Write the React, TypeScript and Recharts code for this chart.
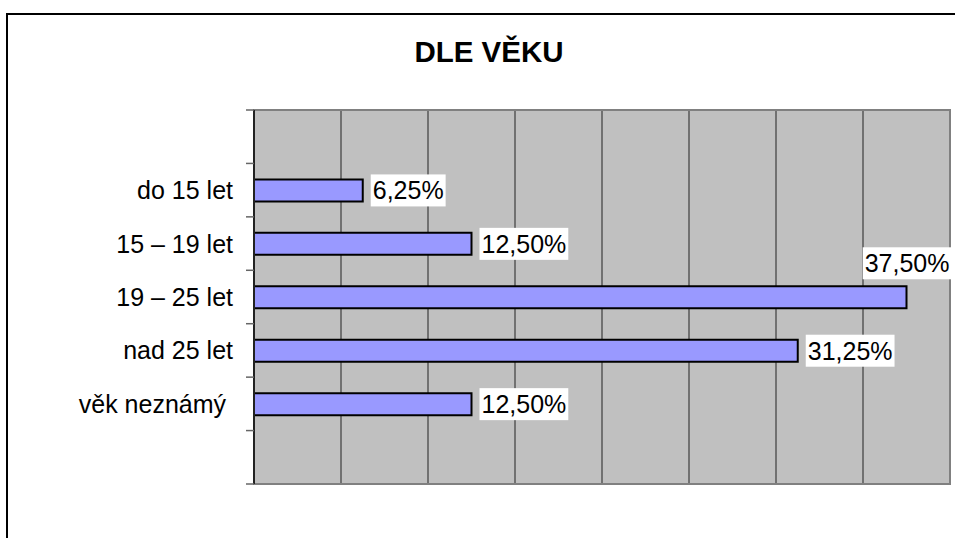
import { Bar, BarChart, CartesianGrid, LabelList, ReferenceArea, XAxis, YAxis } from 'recharts';

// rows top -> bottom; the empty rows at both ends are padding slots in the original
const categories = ['', 'do 15 let', '15 – 19 let', '19 – 25 let', 'nad 25 let', 'věk neznámý ', ''];
const shares: (number | null)[] = [null, 6.25, 12.5, 37.5, 31.25, 12.5, null];
const xTicks = [0, 5, 10, 15, 20, 25, 30, 35, 40];
const title = 'DLE VĚKU';

const data = categories.map((name, i) => ({ name, value: shares[i] }));

const FONT = '"Liberation Sans", Arial, Helvetica, sans-serif';
const FS = 25;
const W = 955;
const H = 538;
const margin = { top: 110, right: 5, bottom: 54, left: 0 };
const AXIS_W = 254;
const PLOT_H = H - margin.top - margin.bottom;
const PLOT_RIGHT = W - margin.right;
const BAND = PLOT_H / categories.length;

const fmt = (v: number) => v.toFixed(2).replace('.', ',') + '%';

let ctx: CanvasRenderingContext2D | null = null;
function textWidth(s: string, size: number) {
  if (!ctx) ctx = document.createElement('canvas').getContext('2d');
  if (!ctx) return s.length * size * 0.55;
  ctx.font = `${size}px ${FONT}`;
  return ctx.measureText(s).width;
}

function CategoryTick(props: any) {
  const { x, y, payload, index } = props;
  const axisX = x + 21;
  const last = index === categories.length - 1;
  return (
    <g>
      <line x1={axisX - 8} x2={axisX} y1={y - BAND / 2} y2={y - BAND / 2} stroke="#666" strokeWidth={1.5} />
      {last && <line x1={axisX - 8} x2={axisX} y1={y + BAND / 2} y2={y + BAND / 2} stroke="#666" strokeWidth={1.5} />}
      <text x={x} y={y} dy="0.36em" textAnchor="end" fontSize={FS} fontFamily={FONT} fill="#000" style={{ whiteSpace: 'pre' }}>
        {payload.value}
      </text>
    </g>
  );
}

function ValueLabel(props: any) {
  const { x, y, width, height, value } = props;
  if (value == null) return null;
  const s = fmt(Number(value));
  const boxW = textWidth(s, FS) + 4;
  const boxH = 32;
  const end = x + width;
  let bx = end + 8;
  let by = y + height / 2 - boxH / 2;
  if (bx + boxW > PLOT_RIGHT + 4) {
    // no room on the right: put it above the bar end
    bx = end + 45 - boxW;
    by = y - 7 - boxH;
  }
  return (
    <g>
      <rect x={bx} y={by} width={boxW} height={boxH} fill="#fff" />
      <text x={bx + 2} y={by + boxH / 2} dy="0.36em" fontSize={FS} fontFamily={FONT} fill="#000">
        {s}
      </text>
    </g>
  );
}

export default function App() {
  return (
    <div style={{ position: 'absolute', left: 0, top: 0, width: W, height: H, overflow: 'hidden', background: '#fff' }}>
      <div style={{ position: 'absolute', left: 6, top: 13, width: 1000, height: 600, borderLeft: '2px solid #000', borderTop: '2px solid #000' }} />
      <div
        style={{
          position: 'absolute',
          left: 0,
          width: 978,
          top: 37,
          textAlign: 'center',
          fontFamily: FONT,
          fontWeight: 'bold',
          fontSize: 29.5,
          lineHeight: '29px',
          color: '#000',
        }}
      >
        {title}
      </div>
      <div style={{ position: 'absolute', left: 0, top: 0 }}>
        <BarChart width={W} height={H} data={data} layout="vertical" margin={margin} barCategoryGap={0}>
          <CartesianGrid horizontal={false} stroke="#222" fill="#C0C0C0" fillOpacity={1} />
          <XAxis type="number" domain={[0, 40]} ticks={xTicks} hide />
          <YAxis
            type="category"
            dataKey="name"
            width={AXIS_W}
            tickLine={false}
            tickSize={0}
            tickMargin={21}
            axisLine={{ stroke: '#222', strokeWidth: 2 }}
            tick={<CategoryTick />}
            interval={0}
          />
          <ReferenceArea x1={0} x2={40} fill="none" stroke="#808080" strokeWidth={2} />
          <Bar dataKey="value" fill="#9999FF" stroke="#000" strokeWidth={2} barSize={22} isAnimationActive={false}>
            <LabelList dataKey="value" content={<ValueLabel />} />
          </Bar>
        </BarChart>
      </div>
    </div>
  );
}
